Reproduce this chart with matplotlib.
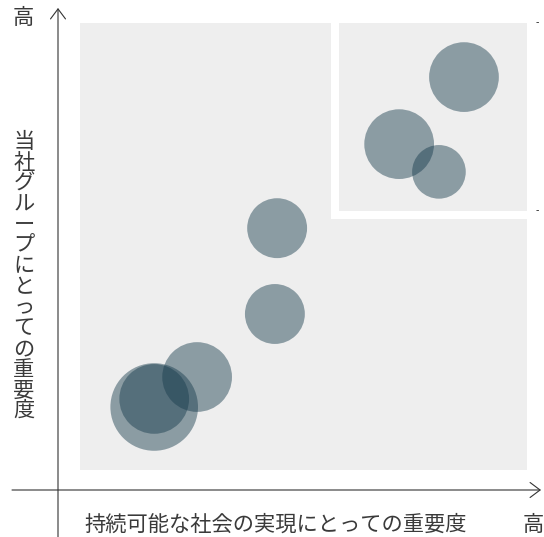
import matplotlib
matplotlib.use("Agg")
import matplotlib.pyplot as plt
from matplotlib.patches import Circle, Rectangle

plt.rcParams['font.family'] = ['Noto Sans CJK JP', 'DejaVu Sans']

# 重要度 (0-100): 横 = 社会, 縦 = 当社グループ
social = [85.9, 71.4, 80.3, 44.1, 43.6, 26.2, 16.6, 16.6]
company = [87.9, 72.9, 66.7, 54.1, 34.9, 20.8, 14.1, 15.9]
radius = [7.8, 7.8, 6.0, 6.7, 6.7, 7.8, 9.8, 7.8]
threshold = 57

x_label = "持続可能な社会の実現にとっての重要度"
y_label = "当社グループにとっての重要度"
high = "高"

W, H = 544, 537
text_color = "#3a3a3a"

fig = plt.figure(figsize=(W / 100, H / 100), dpi=100)
ax = fig.add_axes([80 / W, (H - 470) / H, 447 / W, 447 / H])
ax.set_xlim(0, 100)
ax.set_ylim(0, 100)
ax.axis("off")

ax.add_patch(Rectangle((0, 0), 100, 100, color="#eeeeee", zorder=0))
# 重要課題エリアの白枠
ax.plot([threshold, threshold, 100], [100, threshold, threshold],
        color="white", lw=5.8, solid_capstyle="butt", solid_joinstyle="miter", zorder=1)

for x, y, r in zip(social, company, radius):
    ax.add_patch(Circle((x, y), r, facecolor="#173b4c", edgecolor="none", alpha=0.46, zorder=2))

for yv in [100, threshold + 1]:
    ax.text(102.2, yv, "-", fontsize=7, color="#222222", ha="center", va="center", clip_on=False)

# 軸の矢印
arrow = dict(arrowstyle="->,head_length=0.72,head_width=0.54", color="#333333", lw=0.8,
             shrinkA=0, shrinkB=0, mutation_scale=10)
ax.annotate("", xy=(58, H - 8), xytext=(58, 0), xycoords="figure pixels",
            textcoords="figure pixels", arrowprops=arrow)
ax.annotate("", xy=(541, H - 490), xytext=(12, H - 490), xycoords="figure pixels",
            textcoords="figure pixels", arrowprops=arrow)

fs = 15.3
fig.text(23 / W, 1 - 18 / H, high, fontsize=fs, color=text_color, ha="center", va="center")
fig.text(84 / W, 1 - 525 / H, x_label, fontsize=fs, color=text_color, ha="left", va="center")
fig.text(533 / W, 1 - 525 / H, high, fontsize=fs, color=text_color, ha="center", va="center")
for i, ch in enumerate(y_label):
    fig.text(24 / W, 1 - (142 + i * 20.7) / H, ch, fontsize=fs, color=text_color,
             ha="center", va="center")

fig.savefig("out.png", dpi=100)
